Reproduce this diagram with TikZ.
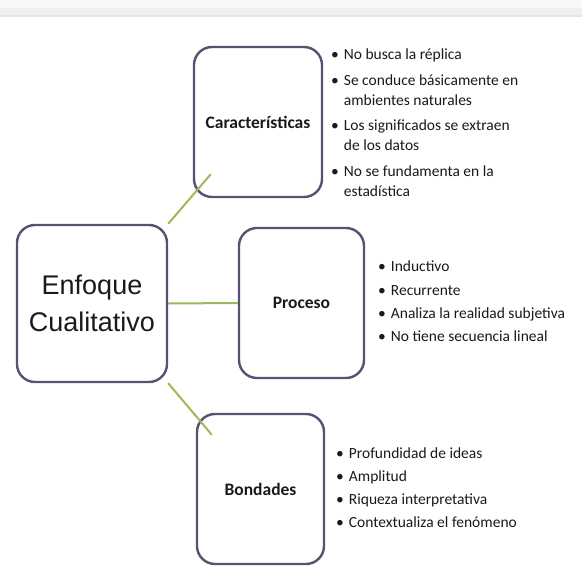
\documentclass[tikz,border=0pt]{standalone}
\usepackage{fontspec}
\setmainfont{Carlito}
\newfontfamily\arialf{Liberation Sans}
\definecolor{boxline}{HTML}{5A5072}
\definecolor{conn}{HTML}{9BBB59}
\definecolor{txt}{HTML}{1A1A1A}
\begin{document}
\begin{tikzpicture}[x=1pt,y=-1pt,
  box/.style={draw=boxline, line width=2.4pt, fill=white, rounded corners=18pt,
    align=center, text=txt, inner sep=0pt},
  boxlabel/.style={font=\fontsize{17.5}{21}\selectfont\bfseries},
  conline/.style={draw=conn, line width=2pt},
  blist/.style={anchor=base west, inner sep=0pt, text=txt, align=left}
]
\useasboundingbox (0,0) rectangle (582,567);
\fill[white] (0,0) rectangle (582,567);
\fill[black!3] (0,0) rectangle (582,8);
\fill[black!6] (0,8) rectangle (582,15);
\fill[black!10] (0,15) rectangle (582,17);

% connectors (drawn first, boxes over them)
\node[box, boxlabel, minimum width=128pt, minimum height=150pt] (car) at (258,122) {Características};
\node[box, minimum width=150pt, minimum height=157pt,
  font=\arialf\fontsize{27}{37}\selectfont] (enf) at (92,303.5) {Enfoque\\Cualitativo};
\node[box, boxlabel, minimum width=125pt, minimum height=150pt] (proc) at (301.5,303) {Proceso};
\node[box, boxlabel, minimum width=127pt, minimum height=150pt] (bon) at (260.5,489) {Bondades};

\coordinate (carend) at ([shift={(18,-24)}]car.south west);
\coordinate (bonend) at ([shift={(16,22)}]bon.north west);
\draw[conline] (enf.north east) -- (carend);
\draw[conline] (enf.east) -- (proc.west);
\draw[conline] (enf.south east) -- (bonend);

\node[blist, font=\fontsize{15.5}{20}\selectfont] (carlist) at (331,60) {%
\begin{tabular}[t]{@{}l@{\hspace{5pt}}l@{}}
\textbullet & No busca la réplica\\[5.5pt]
\textbullet & Se conduce básicamente en\\
 & ambientes naturales\\[5.5pt]
\textbullet & Los significados se extraen\\
 & de los datos\\[5.5pt]
\textbullet & No se fundamenta en la\\
 & estadística
\end{tabular}};

\node[blist, font=\fontsize{15.5}{23.3}\selectfont] (proclist) at (378,272) {%
\begin{tabular}[t]{@{}l@{\hspace{5pt}}l@{}}
\textbullet & Inductivo\\
\textbullet & Recurrente\\
\textbullet & Analiza la realidad subjetiva\\
\textbullet & No tiene secuencia lineal
\end{tabular}};

\node[blist, font=\fontsize{15.5}{23.3}\selectfont] (bonlist) at (336,458) {%
\begin{tabular}[t]{@{}l@{\hspace{5pt}}l@{}}
\textbullet & Profundidad de ideas\\
\textbullet & Amplitud\\
\textbullet & Riqueza interpretativa\\
\textbullet & Contextualiza el fenómeno
\end{tabular}};
\end{tikzpicture}
\end{document}
